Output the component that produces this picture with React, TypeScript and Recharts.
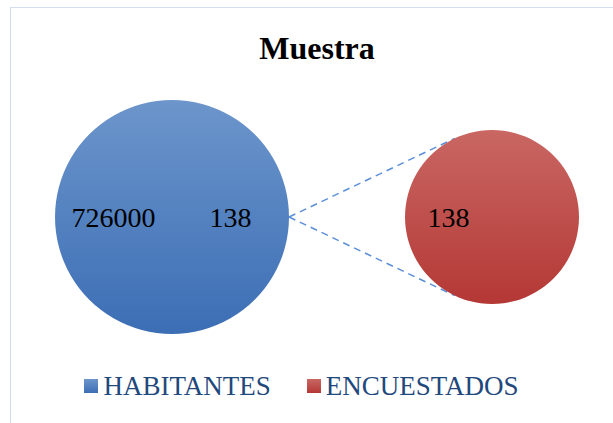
import { PieChart, Pie, Cell, Legend, Customized } from 'recharts';

// serie principal: el sector pequeño (138) se desglosa en el círculo secundario
const mainNames = ['Otro', 'HABITANTES'];
const mainValues = [138, 726000];
const subNames = ['ENCUESTADOS'];
const subValues = [138];
const legendNames = ['HABITANTES', 'ENCUESTADOS'];
const legendFills = ['url(#gradAzul)', 'url(#gradRojo)'];

const W = 613;
const H = 423;
const FONT = "'Liberation Serif', 'Times New Roman', Times, 'DejaVu Serif', serif";
const MAIN = { cx: 172, cy: 217, r: 117 };
const SUB = { cx: 492, cy: 217, r: 87 };

const mainData = mainNames.map((name, i) => ({ name, value: mainValues[i] }));
const subData = subNames.map((name, i) => ({ name, value: subValues[i] }));
const total = mainValues.reduce((a, b) => a + b, 0);
const otherAngle = (360 * mainValues[0]) / total;

const RAD = Math.PI / 180;

function renderLabel(props: any) {
  const { cx, cy, midAngle, outerRadius, value } = props;
  const r = outerRadius * 0.5;
  const x = cx + r * Math.cos(-midAngle * RAD);
  const y = cy + r * Math.sin(-midAngle * RAD);
  return (
    <text x={x} y={y + 10} textAnchor="middle" style={{ fontFamily: FONT }} fontSize={28} fill="#000">
      {value}
    </text>
  );
}

// líneas punteadas tangentes entre el sector "Otro" y el círculo secundario
function Connectors() {
  const px = MAIN.cx + MAIN.r;
  const py = MAIN.cy;
  const d = Math.hypot(SUB.cx - px, SUB.cy - py);
  const t = Math.acos(SUB.r / d);
  const base = Math.atan2(py - SUB.cy, px - SUB.cx);
  const pts = [base - t, base + t].map((a) => [SUB.cx + SUB.r * Math.cos(a), SUB.cy + SUB.r * Math.sin(a)]);
  return (
    <g>
      {pts.map(([x, y], i) => (
        <line key={i} x1={px} y1={py} x2={x} y2={y} stroke="#5b8fd8" strokeWidth={1.5} strokeDasharray="7 5" />
      ))}
    </g>
  );
}

function LegendBox() {
  return (
    <div style={{ display: 'flex', justifyContent: 'center', fontFamily: FONT, fontSize: 27, color: '#1f497d', lineHeight: '30px' }}>
      {legendNames.map((n, i) => (
        <div key={n} style={{ display: 'flex', alignItems: 'center', marginRight: i === 0 ? 36 : 0 }}>
          <svg width={14} height={14} style={{ marginRight: 5 }}>
            <rect width={14} height={14} fill={legendFills[i]} />
          </svg>
          <span>{n}</span>
        </div>
      ))}
    </div>
  );
}

export default function App() {
  return (
    <div style={{ position: 'absolute', left: 0, top: 0, width: W, height: H, background: '#fff', fontFamily: FONT }}>
      <div
        style={{
          position: 'absolute',
          left: 10,
          top: 7,
          width: W - 10,
          height: H - 7,
          borderTop: '1px solid #d3deec',
          borderLeft: '1px solid #d3deec',
          boxSizing: 'border-box',
        }}
      />
      <div style={{ position: 'absolute', left: 0, top: 0 }}>
        <PieChart width={W} height={H} margin={{ top: 0, right: 0, bottom: 0, left: 0 }}>
          <defs>
            <linearGradient id="gradAzul" x1="0" y1="0" x2="0" y2="1">
              <stop offset="0%" stopColor="#6c95cb" />
              <stop offset="100%" stopColor="#3c6eb5" />
            </linearGradient>
            <linearGradient id="gradRojo" x1="0" y1="0" x2="0" y2="1">
              <stop offset="0%" stopColor="#c96763" />
              <stop offset="100%" stopColor="#b43835" />
            </linearGradient>
          </defs>
          <text x={317} y={59} textAnchor="middle" style={{ fontFamily: FONT }} fontSize={32} fontWeight="bold" fill="#000">
            Muestra
          </text>
          <Customized component={Connectors} />
          <Pie
            data={mainData}
            dataKey="value"
            nameKey="name"
            cx={MAIN.cx}
            cy={MAIN.cy}
            outerRadius={MAIN.r}
            startAngle={-otherAngle / 2}
            endAngle={360 - otherAngle / 2}
            stroke="none"
            label={renderLabel}
            labelLine={false}
            isAnimationActive={false}
          >
            {mainData.map((d) => (
              <Cell key={d.name} fill="url(#gradAzul)" />
            ))}
          </Pie>
          <Pie
            data={subData}
            dataKey="value"
            nameKey="name"
            cx={SUB.cx}
            cy={SUB.cy}
            outerRadius={SUB.r}
            startAngle={0}
            endAngle={360}
            stroke="none"
            label={renderLabel}
            labelLine={false}
            isAnimationActive={false}
          >
            {subData.map((d) => (
              <Cell key={d.name} fill="url(#gradRojo)" />
            ))}
          </Pie>
          <Legend
            content={<LegendBox />}
            wrapperStyle={{ position: 'absolute', left: 0, top: 371, width: W - 10 }}
          />
        </PieChart>
      </div>
    </div>
  );
}
